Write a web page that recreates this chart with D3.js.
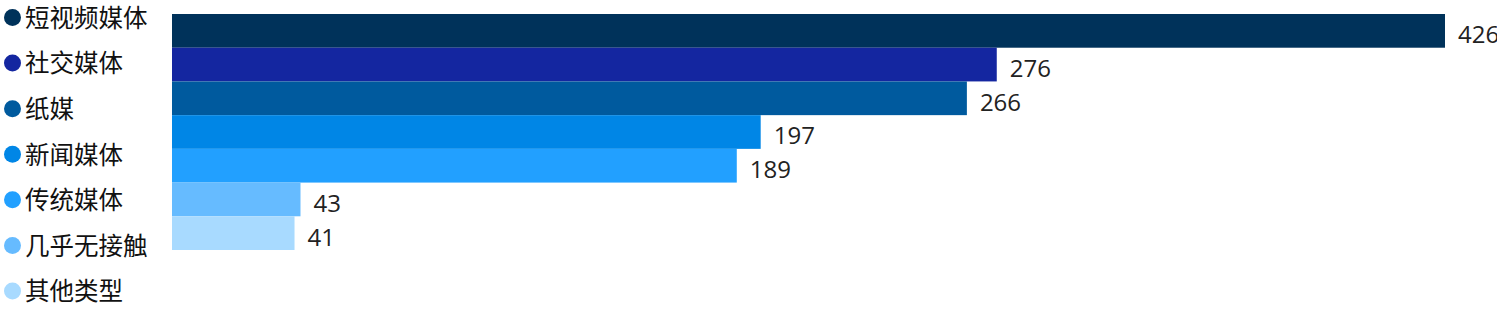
<!DOCTYPE html>
<html>
<head>
<meta charset="utf-8">
<script src="https://cdn.jsdelivr.net/npm/d3@7"></script>
<style>
  html, body { margin: 0; padding: 0; background: #fff; overflow: hidden; }
  svg { display: block; font-family: "Open Sans", "Noto Sans CJK SC", sans-serif; }
</style>
</head>
<body>
<div id="chart"></div>
<script>
const categories = ["短视频媒体", "社交媒体", "纸媒", "新闻媒体", "传统媒体", "几乎无接触", "其他类型"];
const values = [426, 276, 266, 197, 189, 43, 41];
const colors = ["#00325a", "#1426a0", "#005a9e", "#0086e6", "#22a0ff", "#66bbff", "#a8daff"];

const width = 1497, height = 312;

const svg = d3.select("#chart")
  .append("svg")
  .attr("width", width)
  .attr("height", height);

const x = d3.scaleLinear().domain([0, 426]).range([172, 1445]);
const y = d3.scaleBand().domain(categories).range([14, 250]).padding(0);
const color = d3.scaleOrdinal().domain(categories).range(colors);

// bars
svg.selectAll("rect.bar")
  .data(categories)
  .enter()
  .append("rect")
  .classed("bar", true)
  .attr("x", x(0))
  .attr("y", d => y(d))
  .attr("width", (d, i) => x(values[i]) - x(0))
  .attr("height", y.bandwidth())
  .style("fill", d => color(d));

// value labels
svg.selectAll("text.value")
  .data(categories)
  .enter()
  .append("text")
  .classed("value", true)
  .attr("x", (d, i) => x(values[i]) + 13)
  .attr("y", d => y(d) + y.bandwidth() / 2 + 4)
  .attr("dy", "0.35em")
  .style("font-size", "24px")
  .style("fill", "#222")
  .text((d, i) => values[i]);

// legend
const ly = d3.scalePoint().domain(categories).range([17.5, 291]);
const legend = svg.selectAll("g.legend")
  .data(categories)
  .enter()
  .append("g")
  .classed("legend", true)
  .attr("transform", d => "translate(0," + ly(d) + ")");

legend.append("circle")
  .attr("cx", 12.5)
  .attr("cy", 0)
  .attr("r", 8.5)
  .style("fill", d => color(d));

legend.append("text")
  .attr("x", 25)
  .attr("y", 0)
  .attr("dy", "0.38em")
  .style("font-size", "24.5px")
  .style("font-family", "'Noto Sans CJK SC', sans-serif")
  .style("fill", "#111")
  .text(d => d);
</script>
</body>
</html>
